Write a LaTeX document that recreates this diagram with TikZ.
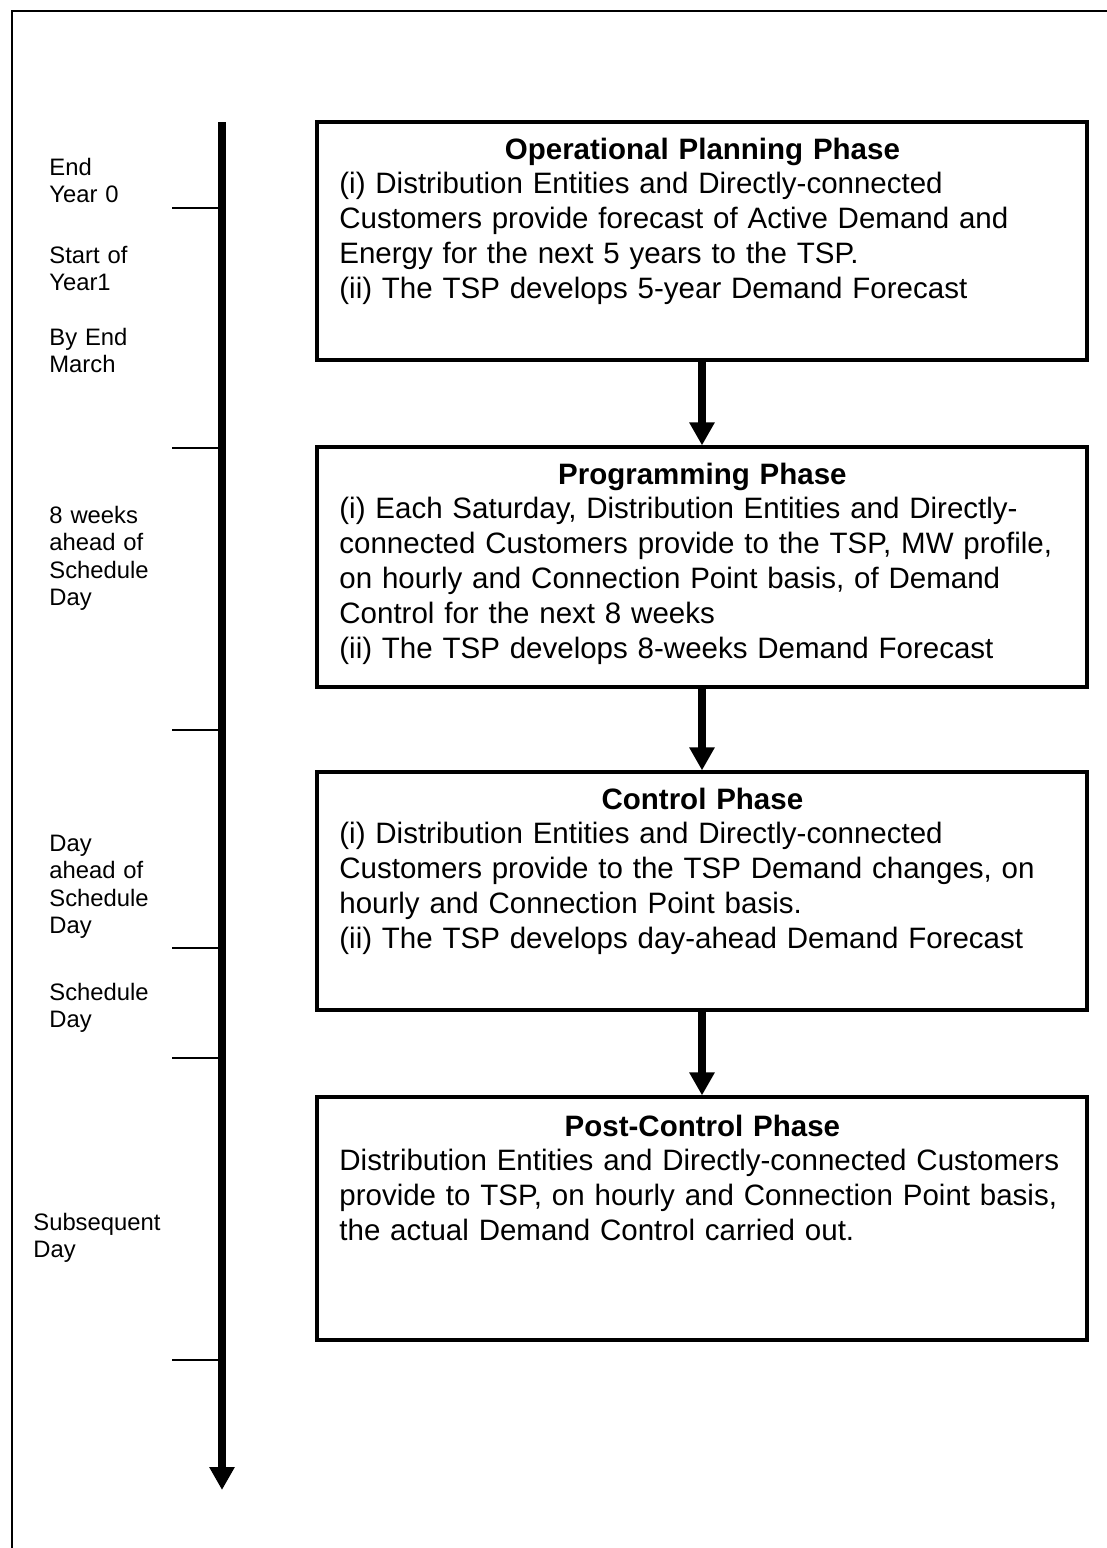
\documentclass[tikz,border=0pt]{standalone}
\usepackage{fontspec}
\setmainfont{Liberation Sans}
\usetikzlibrary{arrows.meta}
\begin{document}
\begin{tikzpicture}[x=0.5pt,y=-0.5pt,
  phase/.style={draw, line width=1.6pt, inner sep=0pt, minimum width=385pt},
  boxtext/.style={anchor=base west, inner sep=0pt, text width=380pt, align=left,
    font=\fontsize{14.75}{17.4}\selectfont},
  lbl/.style={anchor=base west, inner sep=0pt, text width=75pt, align=left,
    font=\fontsize{11.9}{13.75}\selectfont},
  tickline/.style={line width=0.75pt},
  flow/.style={line width=4pt, -{Triangle[width=12pt,length=11.5pt]}},
  frameline/.style={line width=0.8pt},
]
\useasboundingbox (0,0) rectangle (1107,1548);
\newcommand{\phtitle}[1]{\makebox[363pt][c]{\bfseries #1}}

% outer frame
\draw[frameline] (12,1548) -- (12,11) -- (1107,11);

% timeline
\coordinate (tltop) at (222,122);
\coordinate (tlbot) at (222,1490);
\draw[flow] (tltop) -- (tlbot);
\foreach \i/\y in {1/208,2/448,3/730,4/948,5/1058,6/1360}{
  \coordinate (tka\i) at (172,\y);
  \coordinate (tkb\i) at (222,\y);
  \draw[tickline] (tka\i) -- (tkb\i);
}

% labels
\node[lbl] (l1) at (49,175) {End\\Year 0};
\node[lbl] (l2) at (49,263) {Start of\\Year1};
\node[lbl] (l3) at (49,345) {By End\\March};
\node[lbl] (l4) at (49,523) {8 weeks\\ahead of\\Schedule\\Day};
\node[lbl] (l5) at (49,851) {Day\\ahead of\\Schedule\\Day};
\node[lbl] (l6) at (49,1000) {Schedule\\Day};
\node[lbl] (l7) at (33,1230) {Subsequent\\Day};

% phase boxes
\node[phase, minimum height=119pt] (opp) at (702,241) {};
\node[phase, minimum height=120pt] (prog) at (702,567) {};
\node[phase, minimum height=119pt] (ctrl) at (702,891) {};
\node[phase, minimum height=121.5pt] (post) at (702,1218.5) {};

\node[boxtext] (opptxt) at (339,159) {\phtitle{Operational Planning Phase}\\
(i) Distribution Entities and Directly-connected\\
Customers provide forecast of Active Demand and\\
Energy for the next 5 years to the TSP.\\
(ii) The TSP develops 5-year Demand Forecast};

\node[boxtext] (progtxt) at (339,484) {\phtitle{Programming Phase}\\
(i) Each Saturday, Distribution Entities and Directly-\\
connected Customers provide to the TSP, MW profile,\\
on hourly and Connection Point basis, of Demand\\
Control for the next 8 weeks\\
(ii) The TSP develops 8-weeks Demand Forecast};

\node[boxtext] (ctrltxt) at (339,809) {\phtitle{Control Phase}\\
(i) Distribution Entities and Directly-connected\\
Customers provide to the TSP Demand changes, on\\
hourly and Connection Point basis.\\
(ii) The TSP develops day-ahead Demand Forecast};

\node[boxtext] (posttxt) at (339,1136) {\phtitle{Post-Control Phase}\\
Distribution Entities and Directly-connected Customers\\
provide to TSP, on hourly and Connection Point basis,\\
the actual Demand Control carried out.};

% flow arrows
\draw[flow] (opp.south) -- (prog.north);
\draw[flow] (prog.south) -- (ctrl.north);
\draw[flow] (ctrl.south) -- (post.north);
\end{tikzpicture}
\end{document}
